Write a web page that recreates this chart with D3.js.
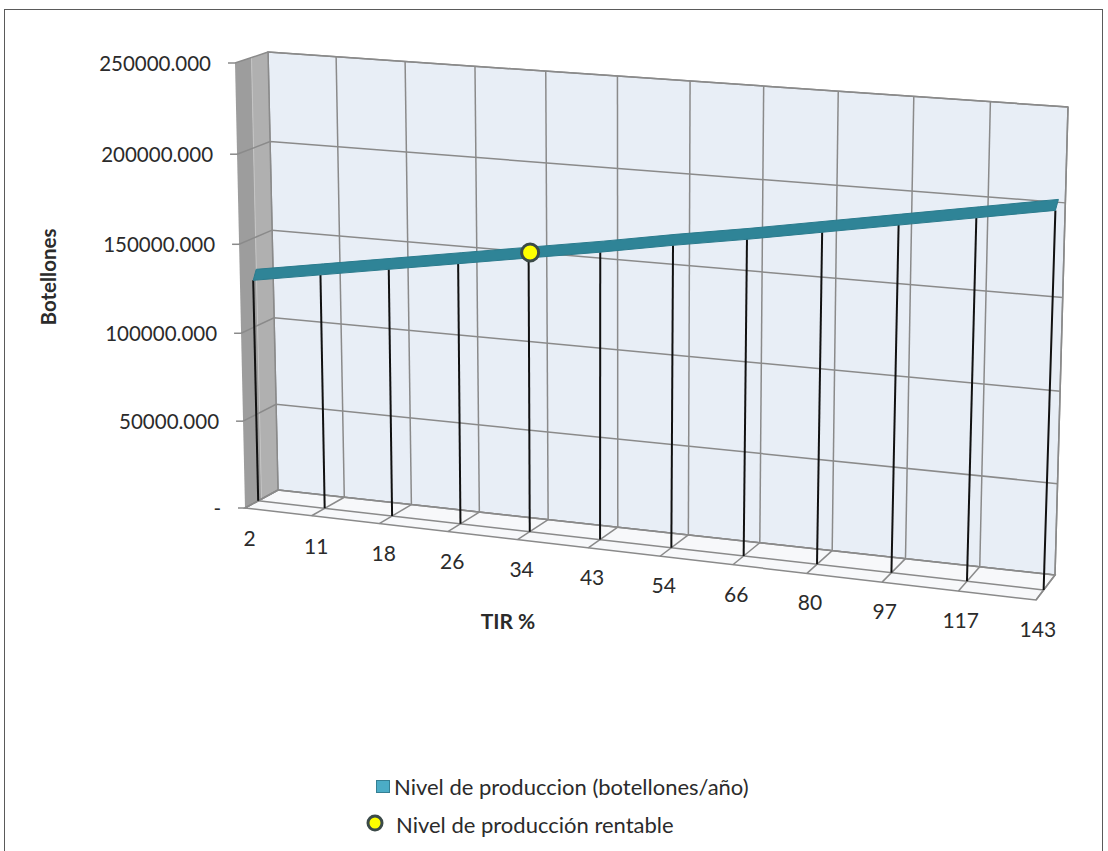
<!DOCTYPE html>
<html>
<head>
<meta charset="utf-8">
<script src="https://cdn.jsdelivr.net/npm/d3@7"></script>
<style>
  body { margin: 0; background: #fff; }
  svg { display: block; }
  text { font-family: Lato, "Open Sans", sans-serif; fill: #2b2b2b; }
</style>
</head>
<body>
<svg id="chart" width="1108" height="851"></svg>
<script>
// ---- data ----
const categories = ["2", "11", "18", "26", "34", "43", "54", "66", "80", "97", "117", "143"];
const production = [126500, 133000, 139500, 146000, 152500, 159000, 166000, 172500, 179500, 186500, 193500, 200500];
const breakEvenCategory = "34";
const breakEvenValue = 152500;
const yTicks = [0, 50000, 100000, 150000, 200000, 250000];
const yTickLabels = ["-", "50000.000", "100000.000", "150000.000", "200000.000", "250000.000"];
const seriesNames = ["Nivel de produccion (botellones/año)", "Nivel de producción rentable"];
const xTitle = "TIR %";
const yTitle = "Botellones";

// ---- 3D box: back wall plane (z=0) and front plane (z=1), in screen pixels ----
const backQuad  = { bl: [278, 490], br: [1055, 575], tr: [1068, 107], tl: [268, 52] };
const frontQuad = { bl: [245, 508], br: [1036, 600], tr: [1052, 118], tl: [235, 63] };
const seriesDepth = 0.6;         // depth at which the ribbon sits
const ribbonRise = [3, -11];     // visible thickness of the ribbon

// unit square -> quadrilateral perspective mapping
function homography(q) {
  const [x0, y0] = q.bl, [x1, y1] = q.br, [x2, y2] = q.tr, [x3, y3] = q.tl;
  const dx1 = x1 - x2, dx2 = x3 - x2, dx3 = x0 - x1 + x2 - x3;
  const dy1 = y1 - y2, dy2 = y3 - y2, dy3 = y0 - y1 + y2 - y3;
  const den = dx1 * dy2 - dx2 * dy1;
  const g = (dx3 * dy2 - dx2 * dy3) / den;
  const h = (dx1 * dy3 - dx3 * dy1) / den;
  const a = x1 - x0 + g * x1, b = x3 - x0 + h * x3, c = x0;
  const d = y1 - y0 + g * y1, e = y3 - y0 + h * y3, f = y0;
  return (u, v) => {
    const w = g * u + h * v + 1;
    return [(a * u + b * v + c) / w, (d * u + e * v + f) / w];
  };
}
const hBack = homography(backQuad), hFront = homography(frontQuad);
function project(u, v, z) {
  const b = hBack(u, v), f = hFront(u, v);
  return [b[0] + (f[0] - b[0]) * z, b[1] + (f[1] - b[1]) * z];
}

// ---- scales ----
const x = d3.scalePoint().domain(categories).range([0, 1]);
const y = d3.scaleLinear().domain([0, 250000]).range([0, 1]);
const P = (cat, val, z) => project(x(cat), y(val), z);
const U = (u, val, z) => project(u, y(val), z);

const svg = d3.select("#chart");
const line = d3.line();
const poly = pts => "M" + pts.map(p => p.join(",")).join("L") + "Z";

// outer frame
svg.append("rect").attr("x", 4.5).attr("y", 9.5).attr("width", 1098).attr("height", 900)
  .attr("fill", "#fff").attr("stroke", "#5a5a5a").attr("stroke-width", 1);

const gridColor = "#8a8a8a";
const g = svg.append("g");

// back wall
g.append("path")
  .attr("d", poly([U(0, 0, 0), U(1, 0, 0), U(1, 250000, 0), U(0, 250000, 0)]))
  .attr("fill", "#e8eef6").attr("stroke", gridColor).attr("stroke-width", 1.5);

// left side wall (two tones)
g.append("path")
  .attr("d", poly([U(0, 0, 0), U(0, 250000, 0), U(0, 250000, 0.5), U(0, 0, 0.5)]))
  .attr("fill", "#b0b0b0");
g.append("path")
  .attr("d", poly([U(0, 0, 0.5), U(0, 250000, 0.5), U(0, 250000, 1), U(0, 0, 1)]))
  .attr("fill", "#9d9d9d");
g.append("path")
  .attr("d", line([U(0, 250000, 0.5), U(0, 0, 0.5)]))
  .attr("stroke", "#c4c4c4").attr("stroke-width", 1).attr("fill", "none");

// floor
g.append("path")
  .attr("d", poly([U(0, 0, 0), U(1, 0, 0), U(1, 0, 1), U(0, 0, 1)]))
  .attr("fill", "#f7f8fa").attr("stroke", gridColor).attr("stroke-width", 1.5);
g.append("path")
  .attr("d", line([U(0, 0, seriesDepth), U(1, 0, seriesDepth)]))
  .attr("stroke", gridColor).attr("stroke-width", 1.5).attr("fill", "none");

// vertical gridlines on back wall and floor lines per category
categories.forEach(c => {
  g.append("path").attr("d", line([P(c, 0, 0), P(c, 250000, 0)]))
    .attr("stroke", gridColor).attr("stroke-width", 1.5).attr("fill", "none");
  g.append("path").attr("d", line([P(c, 0, 0), P(c, 0, 1)]))
    .attr("stroke", gridColor).attr("stroke-width", 1.5).attr("fill", "none");
});

// horizontal gridlines across back wall and side wall, plus tick marks
yTicks.forEach((t, i) => {
  g.append("path").attr("d", line([U(1, t, 0), U(0, t, 0), U(0, t, 1)]))
    .attr("stroke", gridColor).attr("stroke-width", 1.5).attr("fill", "none");
  const p = U(0, t, 1);
  g.append("path").attr("d", line([p, [p[0] - 7, p[1]]]))
    .attr("stroke", gridColor).attr("stroke-width", 1.5);
  svg.append("text")
    .attr("x", p[0] - 24).attr("y", p[1])
    .attr("text-anchor", "end").attr("dominant-baseline", "central")
    .attr("font-size", 20.5)
    .text(yTickLabels[i]);
});

// drop lines
categories.forEach((c, i) => {
  g.append("path").attr("d", line([P(c, production[i], seriesDepth), P(c, 0, seriesDepth)]))
    .attr("stroke", "#111").attr("stroke-width", 2).attr("fill", "none");
});

// ribbon
const front = categories.map((c, i) => P(c, production[i], seriesDepth));
const back = front.map(p => [p[0] + ribbonRise[0], p[1] + ribbonRise[1]]);
g.append("path")
  .attr("d", poly(front.concat(back.slice().reverse())))
  .attr("fill", "#2f8497").attr("stroke", "#2b7b8d").attr("stroke-width", 1);

// break-even marker
const m = P(breakEvenCategory, breakEvenValue, seriesDepth);
g.append("circle")
  .attr("cx", m[0] + ribbonRise[0] / 2).attr("cy", m[1] + ribbonRise[1] / 2)
  .attr("r", 8.5).attr("fill", "#ffff00").attr("stroke", "#3b4a48").attr("stroke-width", 3);

// category labels
categories.forEach(c => {
  const p = P(c, 0, 0.8);
  svg.append("text")
    .attr("x", p[0] - 2).attr("y", p[1] + 33)
    .attr("text-anchor", "middle").attr("dominant-baseline", "central")
    .attr("font-size", 21)
    .text(c);
});

// axis titles
svg.append("text")
  .attr("x", 508).attr("y", 620)
  .attr("text-anchor", "middle").attr("dominant-baseline", "central")
  .attr("font-size", 21).attr("font-weight", "bold")
  .text(xTitle);
svg.append("text")
  .attr("transform", "translate(48,277) rotate(-90)")
  .attr("text-anchor", "middle").attr("dominant-baseline", "central")
  .attr("font-size", 20.5).attr("font-weight", "bold")
  .text(yTitle);

// legend
const lg = svg.append("g");
lg.append("rect").attr("x", 376.5).attr("y", 780.5).attr("width", 13).attr("height", 12)
  .attr("fill", "#4bacc6").attr("stroke", "#357f93").attr("stroke-width", 1);
lg.append("text").attr("x", 394).attr("y", 786).attr("dominant-baseline", "central")
  .attr("font-size", 22).text(seriesNames[0]);
lg.append("circle").attr("cx", 375).attr("cy", 823).attr("r", 7)
  .attr("fill", "#ffff00").attr("stroke", "#3b4a48").attr("stroke-width", 3);
lg.append("text").attr("x", 396).attr("y", 824).attr("dominant-baseline", "central")
  .attr("font-size", 22).text(seriesNames[1]);
</script>
</body>
</html>
